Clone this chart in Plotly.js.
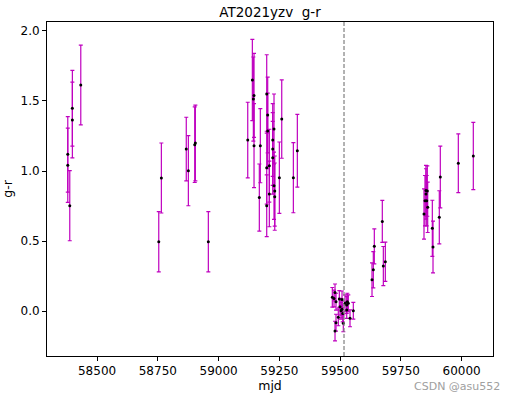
<!DOCTYPE html>
<html>
<head>
<meta charset="utf-8">
<script src="https://cdn.plot.ly/plotly-3.0.1.min.js"></script>
<style>html,body{margin:0;padding:0;background:#fff;}#chart{width:517px;height:395px;}</style>
</head>
<body>
<div id="chart"></div>
<script>
const mjd = [58379.5,58379.5,58387.7,58398.4,58398.4,58433,
  58753.8,58764.5,58867,58875.6,58901.8,58904.4,58957.8,
  59119.9,59138.9,59143,59145.8,59145.8,59167.6,59171.7,59198,59202,59202,59198,59198,
  59208.8,59208.8,59222.7,59222.7,59228,59222.7,59228,59231,59231,59250,59259.8,59307.6,59324,
  59467.9,59474.9,59479,59483.1,59483.1,59479,59492.6,59496.7,59499.6,59503.7,59507.8,59507.8,
  59510.7,59513.2,59520.2,59527.2,59529.6,59527.2,59533.7,59540.7,59554.3,
  59631.2,59636.6,59640.7,59673.6,59677.8,59686,
  59845.1,59849.2,59853.3,59858.7,59853.3,59856.2,59860.3,59879.4,59882.2,59908.1,59912.2,59986.3,60048];
const gr = [1.119,1.041,0.752,1.448,1.364,1.614,
  0.495,0.95,1.157,1.002,1.188,1.2,0.495,
  1.221,1.65,1.514,1.54,1.181,0.81,1.181,1.55,1.4,1.286,1.024,0.752,
  1.038,0.836,1.221,1.157,1.3,1.095,0.895,0.857,0.817,0.952,1.371,0.952,1.145,
  0.098,0.09,0.133,0.067,-0.083,-0.143,-0.045,0.086,0.031,0.002,0.012,0.083,
  -0.017,-0.088,0.055,0.043,0.067,0.007,0.055,-0.052,0.002,
  0.224,0.295,0.462,0.64,0.321,0.352,
  0.693,0.788,0.836,0.857,0.86,0.788,0.741,0.591,0.457,0.669,0.957,1.055,1.107];
const grErr = [0.27,0.265,0.25,0.27,0.27,0.285,
  0.215,0.25,0.227,0.25,0.27,0.27,0.215,
  0.27,0.29,0.3,0.3,0.3,0.24,0.265,0.28,0.27,0.27,0.26,0.22,
  0.26,0.234,0.26,0.26,0.25,0.26,0.24,0.25,0.24,0.255,0.28,0.25,0.26,
  0.07,0.06,0.06,0.06,0.06,0.07,0.06,0.06,0.06,0.06,0.06,0.06,
  0.06,0.06,0.06,0.06,0.06,0.06,0.06,0.06,0.06,
  0.12,0.13,0.125,0.15,0.14,0.14,
  0.18,0.18,0.18,0.18,0.18,0.18,0.18,0.2,0.185,0.19,0.22,0.21,0.24];
const markerMjd = 59516;
const xTicks = [58500,58750,59000,59250,59500,59750,60000];
const yTicks = [0.0,0.5,1.0,1.5,2.0];

const trace = {
  x: mjd, y: gr, type: 'scatter', mode: 'markers',
  marker: {color: 'black', size: 3},
  error_y: {type: 'data', array: grErr, visible: true, color: '#bf00bf', thickness: 1.2, width: 2},
  hoverinfo: 'skip', showlegend: false
};
const layout = {
  width: 517, height: 395,
  margin: {l: 47, r: 24, t: 22, b: 39},
  paper_bgcolor: '#fff', plot_bgcolor: '#fff',
  font: {family: 'DejaVu Sans', size: 12, color: '#000'},
  title: {text: 'AT2021yzv  g-r', font: {family: 'DejaVu Sans', size: 13.5, color: '#000'},
          x: 0.5, xref: 'paper', y: 1 - 12/395, yref: 'container', yanchor: 'middle'},
  xaxis: {range: [58294, 60129], tickvals: xTicks, ticktext: xTicks.map(String),
          showgrid: false, zeroline: false, showline: true, mirror: true, linecolor: '#000', linewidth: 1,
          ticks: 'outside', ticklen: 4, tickcolor: '#000', tickfont: {family: 'DejaVu Sans', size: 12, color: '#000'},
          title: {text: 'mjd', font: {family: 'DejaVu Sans', size: 12.5, color: '#000'}, standoff: 1}},
  yaxis: {range: [-0.321, 2.064], tickvals: yTicks, ticktext: yTicks.map(v => v.toFixed(1)),
          showgrid: false, zeroline: false, showline: true, mirror: true, linecolor: '#000', linewidth: 1,
          ticks: 'outside', ticklen: 4, tickcolor: '#000', tickfont: {family: 'DejaVu Sans', size: 12, color: '#000'},
          title: {text: 'g-r', font: {family: 'DejaVu Sans', size: 12.5, color: '#000'}, standoff: 6}},
  shapes: [{type: 'line', xref: 'x', yref: 'paper', x0: markerMjd, x1: markerMjd, y0: 0, y1: 1,
            line: {color: 'gray', width: 1.2, dash: '4px,2px'}}],
  annotations: [{text: 'CSDN @asu552', xref: 'paper', yref: 'paper', x: 1.0 + 9/446, y: -30/334,
                 xanchor: 'right', yanchor: 'middle', showarrow: false,
                 font: {family: 'DejaVu Sans', size: 11, color: '#a0a0a0'}}]
};
Plotly.newPlot('chart', [trace], layout, {staticPlot: true, displayModeBar: false});
</script>
</body>
</html>
